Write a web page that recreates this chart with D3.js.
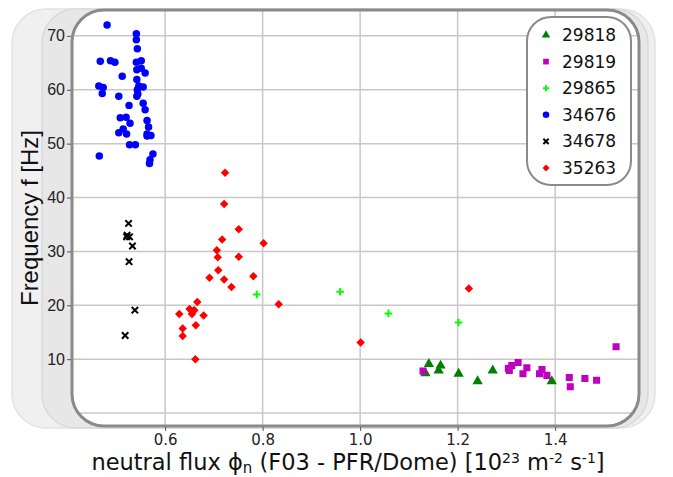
<!DOCTYPE html>
<html>
<head>
<meta charset="utf-8">
<script src="https://cdn.jsdelivr.net/npm/d3@7"></script>
<style>
  body { margin: 0; background: #fff; }
  svg { display: block; }
</style>
</head>
<body>
<div id="chart"></div>
<script>
// shot numbers and their [flux, frequency] points
const shots = ["29818", "29819", "29865", "34676", "34678", "35263"];

const s29818 = [[1.141, 9.1], [1.134, 7.4], [1.165, 8.8], [1.161, 7.9], [1.202, 7.3],
  [1.241, 5.9], [1.272, 7.9], [1.393, 5.9]];

const s29819 = [[1.129, 7.8], [1.306, 7.9], [1.311, 8.8], [1.304, 8.3], [1.324, 9.4],
  [1.334, 7.3], [1.342, 8.4], [1.368, 7.3], [1.373, 8.1], [1.383, 7.0], [1.429, 6.6],
  [1.431, 4.9], [1.461, 6.4], [1.485, 6.1], [1.525, 12.3]];

const s29865 = [[0.788, 22.0], [0.959, 22.5], [1.058, 18.5], [1.202, 16.8]];

const s34676 = [[0.481, 72.0], [0.541, 70.4], [0.541, 69.3], [0.543, 67.6], [0.467, 65.3],
  [0.488, 65.4], [0.497, 65.1], [0.541, 65.1], [0.551, 65.4], [0.542, 63.7], [0.551, 64.0],
  [0.559, 63.1], [0.512, 62.5], [0.542, 61.9], [0.464, 60.7], [0.473, 60.4], [0.471, 59.3],
  [0.546, 60.7], [0.555, 60.5], [0.543, 60.0], [0.544, 59.2], [0.542, 58.8], [0.505, 58.8],
  [0.555, 57.5], [0.526, 57.1], [0.559, 56.3], [0.508, 54.8], [0.520, 54.9], [0.528, 53.8],
  [0.563, 54.3], [0.566, 53.1], [0.514, 52.7], [0.505, 52.0], [0.521, 51.8], [0.563, 51.8],
  [0.571, 51.5], [0.563, 51.4], [0.527, 49.8], [0.539, 49.8], [0.575, 48.1], [0.569, 47.0],
  [0.568, 46.3], [0.465, 47.7]];

const s34678 = [[0.525, 35.2], [0.522, 33.0], [0.527, 32.7], [0.521, 32.7], [0.533, 31.0],
  [0.526, 28.1], [0.538, 19.1], [0.518, 14.4]];

const s35263 = [[0.723, 44.6], [0.721, 38.8], [0.751, 34.1], [0.717, 32.2], [0.802, 31.5],
  [0.706, 30.2], [0.708, 28.9], [0.751, 29.0], [0.709, 26.5], [0.691, 25.1], [0.721, 24.8],
  [0.781, 25.4], [0.736, 23.4], [0.833, 20.2], [0.666, 20.6], [0.629, 18.4], [0.650, 19.3],
  [0.658, 19.0], [0.660, 19.1], [0.655, 18.4], [0.679, 18.1], [0.636, 15.7], [0.663, 16.3],
  [0.636, 14.3], [0.662, 10.0], [1.001, 13.1], [1.223, 23.1]];

const xTicks = [0.6, 0.8, 1.0, 1.2, 1.4];
const yGrid = [0, 10, 20, 30, 40, 50, 60, 70];
const yTicks = [10, 20, 30, 40, 50, 60, 70];

const W = 673, H = 477;
const frame = {left: 72, right: 639, top: 10, bottom: 426, r: 32};

const svg = d3.select("#chart").append("svg")
  .attr("width", W)
  .attr("height", H);

// stacked card look behind the plot
svg.append("rect")
  .attr("x", 12).attr("y", 9).attr("width", 643).attr("height", 419)
  .attr("rx", 34)
  .attr("fill", "#f0f0f0").attr("stroke", "#e2e2e2").attr("stroke-width", 1.5);
svg.append("rect")
  .attr("x", 42).attr("y", 9).attr("width", 606).attr("height", 419)
  .attr("rx", 34)
  .attr("fill", "#e7e7e7").attr("stroke", "#d9d9d9").attr("stroke-width", 1.5);

svg.append("clipPath").attr("id", "plot-clip")
  .append("rect")
  .attr("x", frame.left).attr("y", frame.top)
  .attr("width", frame.right - frame.left).attr("height", frame.bottom - frame.top)
  .attr("rx", frame.r);

svg.append("rect")
  .attr("x", frame.left).attr("y", frame.top)
  .attr("width", frame.right - frame.left).attr("height", frame.bottom - frame.top)
  .attr("rx", frame.r)
  .attr("fill", "#fff");

// Scales
const x = d3.scaleLinear()
  .domain([0.409, 1.572])
  .range([frame.left, frame.right]);

const y = d3.scaleLinear()
  .domain([-2.4, 74.8])
  .range([frame.bottom, frame.top]);

const plot = svg.append("g").attr("clip-path", "url(#plot-clip)");

// grid
plot.append("g").selectAll("line")
  .data(xTicks)
  .join("line")
  .attr("x1", d => x(d)).attr("x2", d => x(d))
  .attr("y1", frame.top).attr("y2", frame.bottom)
  .attr("stroke", "#c8c8c8").attr("stroke-width", 1.5);

plot.append("g").selectAll("line")
  .data(yGrid)
  .join("line")
  .attr("x1", frame.left).attr("x2", frame.right)
  .attr("y1", d => y(d)).attr("y2", d => y(d))
  .attr("stroke", "#c8c8c8").attr("stroke-width", 1.5);

// markers
const sq = d3.symbol().type(d3.symbolSquare);
const series = [
  {data: s29818, color: "#008000", path: d3.symbol().type(d3.symbolTriangle).size(46)(), rot: 0, stroke: false},
  {data: s29819, color: "#bf00bf", path: sq.size(50)(), rot: 0, stroke: false},
  {data: s29865, color: "#00ff00", path: "M-3.8,0H3.8M0,-3.8V3.8", rot: 0, stroke: true, sw: 2},
  {data: s34676, color: "#0000ff", path: d3.symbol().type(d3.symbolCircle).size(44)(), rot: 0, stroke: false},
  {data: s34678, color: "#000000", path: "M-3.2,-3.2L3.2,3.2M-3.2,3.2L3.2,-3.2", rot: 0, stroke: true, sw: 2},
  {data: s35263, color: "#ff0000", path: sq.size(36)(), rot: 45, stroke: false}
];

function drawMarker(sel, s) {
  sel.attr("d", s.path)
    .attr("fill", s.stroke ? "none" : s.color)
    .attr("stroke", s.stroke ? s.color : "none")
    .attr("stroke-width", s.sw || 0);
}

series.forEach(s => {
  plot.append("g").selectAll("path")
    .data(s.data)
    .join("path")
    .attr("transform", d => `translate(${x(d[0])},${y(d[1])}) rotate(${s.rot})`)
    .call(drawMarker, s);
});

// frame outline
svg.append("rect")
  .attr("x", frame.left).attr("y", frame.top)
  .attr("width", frame.right - frame.left).attr("height", frame.bottom - frame.top)
  .attr("rx", frame.r)
  .attr("fill", "none").attr("stroke", "#8a8a8a").attr("stroke-width", 3);

// Axes
const yAxis = svg.append("g")
  .attr("transform", `translate(${frame.left - 1},0)`)
  .call(d3.axisLeft(y).tickValues(yTicks).tickSize(4).tickPadding(2).tickFormat(d3.format("d")));
yAxis.select(".domain").remove();
yAxis.selectAll("line").attr("stroke", "#555");
yAxis.selectAll("text")
  .attr("font-family", "Liberation Sans, Arial, sans-serif")
  .attr("font-size", 16).attr("fill", "#222");

const xAxis = svg.append("g")
  .attr("transform", `translate(0,${frame.bottom + 1})`)
  .call(d3.axisBottom(x).tickValues(xTicks).tickSize(4).tickPadding(3).tickFormat(d3.format(".1f")));
xAxis.select(".domain").remove();
xAxis.selectAll("line").attr("stroke", "#555");
xAxis.selectAll("text")
  .attr("font-family", "DejaVu Sans, sans-serif")
  .attr("font-size", 15).attr("fill", "#222");

// Axis titles
svg.append("text")
  .attr("transform", "translate(38,218) rotate(-90)")
  .attr("text-anchor", "middle")
  .attr("font-family", "Liberation Sans, Arial, sans-serif")
  .attr("font-size", 24).attr("fill", "#111")
  .text("Frequency f [Hz]");

const xt = svg.append("text")
  .attr("x", 348).attr("y", 470)
  .attr("text-anchor", "middle")
  .attr("font-family", "DejaVu Sans, sans-serif")
  .attr("font-size", 22.5).attr("fill", "#111");
xt.append("tspan").text("neutral flux ϕ");
xt.append("tspan").attr("font-size", 15).attr("dy", 3).text("n");
xt.append("tspan").attr("dy", -3).text(" (F03 - PFR/Dome) [10");
xt.append("tspan").attr("font-size", 14).attr("dy", -7).text("23");
xt.append("tspan").attr("dy", 7).text(" m");
xt.append("tspan").attr("font-size", 14).attr("dy", -7).text("-2");
xt.append("tspan").attr("dy", 7).text(" s");
xt.append("tspan").attr("font-size", 14).attr("dy", -7).text("-1");
xt.append("tspan").attr("dy", 7).text("]");

// Legend
const legend = svg.append("g");
legend.append("rect")
  .attr("x", 527).attr("y", 17).attr("width", 104).attr("height", 168)
  .attr("rx", 24)
  .attr("fill", "#fff").attr("stroke", "#8a8a8a").attr("stroke-width", 2);

const rowY = d3.scalePoint().domain(shots).range([35, 168]);
const legendMarkers = [
  {path: d3.symbol().type(d3.symbolTriangle).size(30)(), rot: 0},
  {path: sq.size(32)(), rot: 0},
  {path: "M-3,0H3M0,-3V3", rot: 0, sw: 2},
  {path: d3.symbol().type(d3.symbolCircle).size(34)(), rot: 0},
  {path: "M-2.6,-2.6L2.6,2.6M-2.6,2.6L2.6,-2.6", rot: 0, sw: 2},
  {path: sq.size(24)(), rot: 45}
];

shots.forEach((name, i) => {
  const s = Object.assign({}, series[i], legendMarkers[i]);
  legend.append("path")
    .attr("transform", `translate(546,${rowY(name)}) rotate(${s.rot})`)
    .call(drawMarker, s);
  legend.append("text")
    .attr("x", 562).attr("y", rowY(name))
    .attr("dy", "0.35em")
    .attr("font-family", "DejaVu Sans, sans-serif")
    .attr("font-size", 17).attr("fill", "#111")
    .text(name);
});
</script>
</body>
</html>
